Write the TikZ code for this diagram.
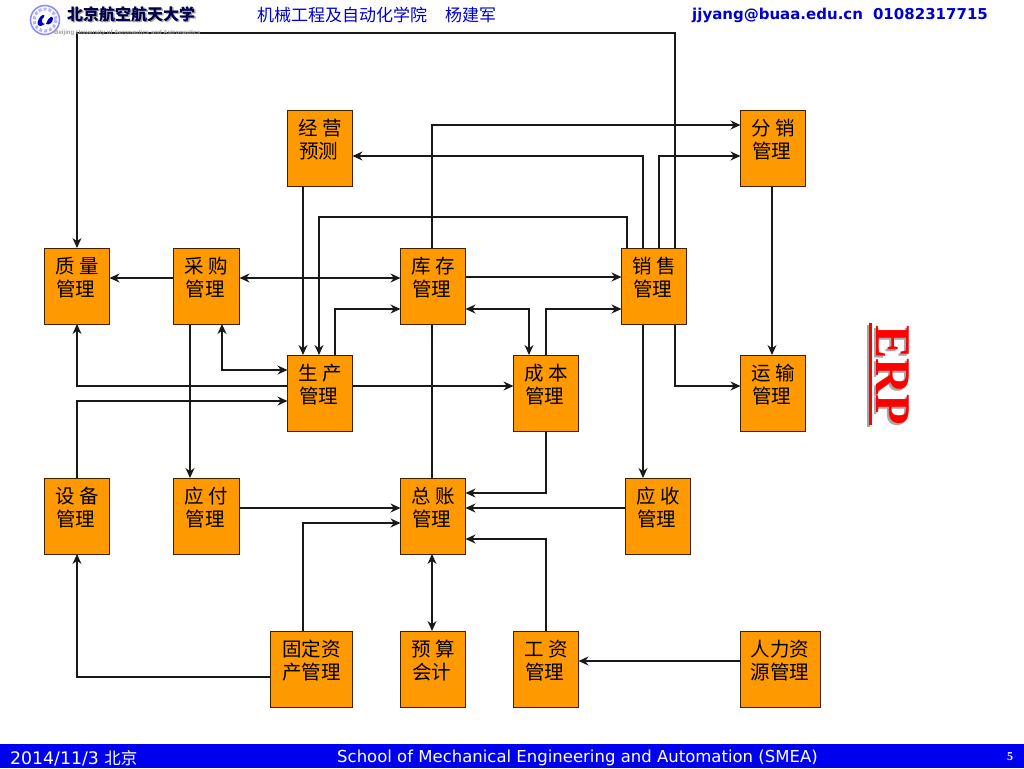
\documentclass[tikz,border=0pt]{standalone}
\usepackage{fontspec}
\setmainfont{Liberation Sans}
\newfontfamily\cjk{Noto Sans CJK SC}
\newfontfamily\ttl{Liberation Serif}
\newfontfamily\lat{DejaVu Sans}
\usetikzlibrary{arrows.meta,backgrounds}
\newcommand{\gp}{\hspace{4.5pt}}
\newcommand{\boxtext}[3]{\parbox[c][76pt][t]{#1pt}{\centering\vspace*{9pt}\cjk\fontsize{19.5}{23}\selectfont #2\\#3\par}}
\tikzset{
  x=1pt,y=-1pt,
  modbox/.style={draw=black!75!orange,line width=1pt,fill=orangebox,inner sep=0pt,outer sep=0pt,minimum height=76pt},
  conn/.style={draw=black!90,line width=1.15pt,-{Stealth[length=10pt,width=9pt]}},
  connb/.style={draw=black!90,line width=1.15pt,{Stealth[length=10pt,width=9pt]}-{Stealth[length=10pt,width=9pt]}},
}
\definecolor{orangebox}{HTML}{FF9900}
\definecolor{headblue}{HTML}{0000CC}
\definecolor{barblue}{HTML}{0000F0}
\begin{document}
\begin{tikzpicture}
\useasboundingbox (0,0) rectangle (1024,768);
% boxes
\node[modbox] (jy) at (320,148) {\boxtext{65}{经\gp 营}{\hspace*{-3pt}预测}};
\node[modbox] (fx) at (773,148) {\boxtext{65}{分\gp 销}{\hspace*{-3pt}管理}};
\node[modbox] (zl) at (77,286) {\boxtext{65}{质\gp 量}{\hspace*{-3pt}管理}};
\node[modbox] (cg) at (206.5,286) {\boxtext{66}{采\gp 购}{\hspace*{-3pt}管理}};
\node[modbox] (kc) at (433,286) {\boxtext{65}{库\gp 存}{\hspace*{-3pt}管理}};
\node[modbox] (xs) at (654,286) {\boxtext{65}{销\gp 售}{\hspace*{-3pt}管理}};
\node[modbox] (sc) at (320,393) {\boxtext{65}{生\gp 产}{\hspace*{-3pt}管理}};
\node[modbox] (cb) at (546,393) {\boxtext{65}{成\gp 本}{\hspace*{-3pt}管理}};
\node[modbox] (ys) at (773,393) {\boxtext{65}{运\gp 输}{\hspace*{-3pt}管理}};
\node[modbox] (sb) at (77,516) {\boxtext{65}{设\gp 备}{\hspace*{-3pt}管理}};
\node[modbox] (yf) at (206.5,516) {\boxtext{66}{应\gp 付}{\hspace*{-3pt}管理}};
\node[modbox] (zz) at (433,516) {\boxtext{65}{总\gp 账}{\hspace*{-3pt}管理}};
\node[modbox] (ysh) at (658,516) {\boxtext{65}{应\gp 收}{\hspace*{-3pt}管理}};
\node[modbox] (gd) at (311.5,669) {\boxtext{82}{固定资}{产管理}};
\node[modbox] (yu) at (433,669) {\boxtext{65}{预\gp 算}{\hspace*{-3pt}会计}};
\node[modbox] (gz) at (546,669) {\boxtext{65}{工\gp 资}{\hspace*{-3pt}管理}};
\node[modbox] (rl) at (780,669) {\boxtext{80}{人力资}{源管理}};
% connectors
\begin{scope}[on background layer]
\draw[conn] (675,0 |- xs.north) -- (675,33) -- (77,33) -- (77,0 |- zl.north);
\draw[conn] (675,0 |- xs.south) -- (675,386) -- (ys.west |- 0,386);
\draw[conn] (432,0 |- zz.north) -- (432,125) -- (fx.west |- 0,125);
\draw[conn] (643,0 |- xs.north) -- (643,156) -- (jy.east |- 0,156);
\draw[conn] (659,0 |- xs.north) -- (659,156) -- (fx.west |- 0,156);
\draw[conn] (627,0 |- xs.north) -- (627,217) -- (319,217) -- (319,0 |- sc.north);
\draw[conn] (303,0 |- jy.south) -- (303,0 |- sc.north);
\draw[conn] (772,0 |- fx.south) -- (772,0 |- ys.north);
\draw[conn] (cg.west |- 0,278) -- (zl.east |- 0,278);
\draw[connb] (cg.east |- 0,278) -- (kc.west |- 0,278);
\draw[conn] (kc.east |- 0,277) -- (xs.west |- 0,277);
\draw[conn] (335,0 |- sc.north) -- (335,309) -- (kc.west |- 0,309);
\draw[connb] (kc.east |- 0,309) -- (529,309) -- (529,0 |- cb.north);
\draw[conn] (546,0 |- cb.north) -- (546,309) -- (xs.west |- 0,309);
\draw[connb] (222,0 |- cg.south) -- (222,370) -- (sc.west |- 0,370);
\draw[conn] (sc.west |- 0,386) -- (77,386) -- (77,0 |- zl.south);
\draw[conn] (77,0 |- sb.north) -- (77,401) -- (sc.west |- 0,401);
\draw[conn] (190,0 |- cg.south) -- (190,0 |- yf.north);
\draw[conn] (sc.east |- 0,386) -- (cb.west |- 0,386);
\draw[conn] (546,0 |- cb.south) -- (546,493) -- (zz.east |- 0,493);
\draw[conn] (643,0 |- xs.south) -- (643,0 |- ysh.north);
\draw[conn] (ysh.west |- 0,508) -- (zz.east |- 0,508);
\draw[conn] (yf.east |- 0,508) -- (zz.west |- 0,508);
\draw[conn] (303,0 |- gd.north) -- (303,523) -- (zz.west |- 0,523);
\draw[conn] (gd.west |- 0,677) -- (77,677) -- (77,0 |- sb.south);
\draw[connb] (432,0 |- zz.south) -- (432,0 |- yu.north);
\draw[conn] (546,0 |- gz.north) -- (546,539) -- (zz.east |- 0,539);
\draw[conn] (rl.west |- 0,661) -- (gz.east |- 0,661);
\end{scope}
% header
\draw[blue!45!white,line width=1.6pt] (45,20) circle (14.5);
\draw[blue!30!white,line width=3pt,dotted] (45,20) circle (11);
\fill[blue!70!black] (38,21) .. controls (41,13) and (46,14) .. (44,17) .. controls (41,19) and (41,24) .. (45,24) -- (41,26) .. controls (38,26) and (37,24) .. (38,21);
\fill[blue!70!black] (46,24) .. controls (49,16) and (53,15) .. (53,19) .. controls (52,24) and (49,25) .. (46,24);
\node[anchor=center,text=gray!70,font={\cjk\bfseries\fontsize{16}{16}\selectfont}] (logoshadow) at (132.5,15.5) {北京航空航天大学};
\node[anchor=center,text=black!70!blue,font={\cjk\bfseries\fontsize{16}{16}\selectfont}] (logo) at (131,14) {北京航空航天大学};
\node[anchor=west,inner sep=0pt,text=gray!75,font={\bfseries\fontsize{6.05}{7}\selectfont}] (logoen) at (54,33) {Beijing University of Aeronautics and Astronautics};
\node[anchor=west,inner sep=0pt,text=headblue,font={\cjk\fontsize{17}{18}\selectfont}] (dept) at (257,15) {机械工程及自动化学院\hspace{18pt}杨建军};
\node[anchor=west,inner sep=0pt,text=headblue,font={\lat\bfseries\fontsize{15}{18}\selectfont}] (mail) at (692,15) {jjyang@buaa.edu.cn\hspace{10pt}01082317715};
% ERP
\fill[gray!70] (867,325) rectangle (870,427);
\node[rotate=-90,text=gray!70,font={\ttl\bfseries\fontsize{50}{50}\selectfont},inner sep=0pt] (erps) at (891,377) {ERP};
\node[rotate=-90,text=red,font={\ttl\bfseries\fontsize{50}{50}\selectfont},inner sep=0pt] (erp) at (893,375) {ERP};
\fill[red] (869,323) rectangle (872,425);
% footer
\fill[barblue] (0,744) rectangle (1024,768);
\node[anchor=west,inner sep=0pt,text=white,font={\lat\fontsize{17.3}{18}\selectfont}] (date) at (10,758) {2014/11/3 {\cjk\fontsize{16.5}{18}\selectfont 北京}};
\node[anchor=west,inner sep=0pt,text=white,font={\lat\fontsize{16.5}{18}\selectfont}] (school) at (337,758) {School of Mechanical Engineering and Automation (SMEA)};
\node[anchor=center,inner sep=0pt,text=white,font={\ttl\bfseries\fontsize{12}{14}\selectfont}] (pg) at (1010,757) {5};
\end{tikzpicture}
\end{document}
